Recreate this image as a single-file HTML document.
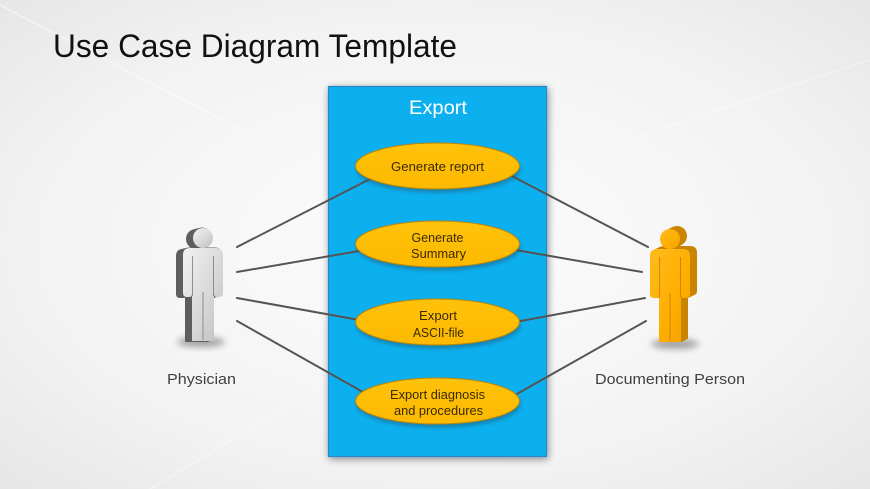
<!DOCTYPE html>
<html>
<head>
<meta charset="utf-8">
<style>
  html, body { margin: 0; padding: 0; width: 870px; height: 489px; overflow: hidden; background: #f1f1f1; }
  svg { display: block; }
  text { font-family: "Liberation Sans", Arial, sans-serif; }
</style>
</head>
<body>
<svg width="870" height="489" viewBox="0 0 870 489" xmlns="http://www.w3.org/2000/svg">
  <defs>
    <radialGradient id="bg" cx="0.5" cy="0.5" r="0.75">
      <stop offset="0" stop-color="#fcfcfc"/>
      <stop offset="0.6" stop-color="#f3f3f3"/>
      <stop offset="1" stop-color="#e4e4e4"/>
    </radialGradient>
    <filter id="boxsh" x="-20%" y="-20%" width="140%" height="140%">
      <feGaussianBlur in="SourceAlpha" stdDeviation="4"/>
      <feOffset dx="1" dy="2" result="b"/>
      <feComponentTransfer><feFuncA type="linear" slope="0.45"/></feComponentTransfer>
      <feMerge><feMergeNode/><feMergeNode in="SourceGraphic"/></feMerge>
    </filter>
    <filter id="blur2" x="-50%" y="-50%" width="200%" height="200%">
      <feGaussianBlur stdDeviation="2"/>
    </filter>
    <filter id="blur4" x="-50%" y="-100%" width="200%" height="300%">
      <feGaussianBlur stdDeviation="3.5"/>
    </filter>
    <linearGradient id="ellg" x1="0" y1="0" x2="0" y2="1">
      <stop offset="0" stop-color="#ffc20a"/>
      <stop offset="1" stop-color="#fcb900"/>
    </linearGradient>
    <linearGradient id="grayFront" x1="0" y1="0" x2="1" y2="1">
      <stop offset="0" stop-color="#f2f2f2"/>
      <stop offset="0.6" stop-color="#d6d6d6"/>
      <stop offset="1" stop-color="#bdbdbd"/>
    </linearGradient>
    <linearGradient id="orFront" x1="0" y1="0" x2="1" y2="1">
      <stop offset="0" stop-color="#ffbb1c"/>
      <stop offset="0.6" stop-color="#ffae00"/>
      <stop offset="1" stop-color="#f29f00"/>
    </linearGradient>
    <g id="person">
      <circle cx="20" cy="10" r="10"/>
      <path d="M0,27 Q0,20 7,20 L33,20 Q40,20 40,27 L40,65 Q40,69 36,69 L34,69 Q31,69 31,66 L31,113 L9,113 L9,66 Q9,69 6,69 L4,69 Q0,69 0,65 Z"/>
    </g>
  </defs>

  <!-- background -->
  <rect x="0" y="0" width="870" height="489" fill="url(#bg)"/>
  <line x1="0" y1="5" x2="300" y2="160" stroke="#ffffff" stroke-width="1" opacity="0.6"/>
  <line x1="600" y1="150" x2="870" y2="60" stroke="#ffffff" stroke-width="1" opacity="0.5"/>
  <line x1="150" y1="489" x2="330" y2="380" stroke="#ffffff" stroke-width="1" opacity="0.5"/>

  <!-- title -->
  <text x="53" y="57" font-size="32" fill="#111111" textLength="404" lengthAdjust="spacingAndGlyphs">Use Case Diagram Template</text>

  <!-- blue system box -->
  <rect x="328.5" y="86.5" width="218" height="370" fill="#0cb0ef" stroke="#2a86c4" stroke-width="1.2" filter="url(#boxsh)"/>
  <text x="438" y="114" font-size="19" fill="#ffffff" text-anchor="middle" textLength="58" lengthAdjust="spacingAndGlyphs">Export</text>

  <!-- connectors -->
  <g stroke="#545454" stroke-width="2" stroke-linecap="round">
    <line x1="237" y1="247" x2="372" y2="178"/>
    <line x1="237" y1="272" x2="365" y2="250"/>
    <line x1="237" y1="298" x2="365" y2="321"/>
    <line x1="237" y1="321" x2="370" y2="396"/>
    <line x1="508" y1="174" x2="648" y2="247"/>
    <line x1="510" y1="249" x2="642" y2="272"/>
    <line x1="510" y1="323" x2="645" y2="298"/>
    <line x1="508" y1="399" x2="646" y2="321"/>
  </g>

  <!-- use case ellipses -->
  <g>
    <g transform="translate(0,166)">
      <ellipse cx="438.5" cy="3.5" rx="82" ry="23" fill="#1d5a7a" opacity="0.55" filter="url(#blur2)"/>
      <ellipse cx="437.5" cy="0" rx="82" ry="23" fill="url(#ellg)" stroke="#b8860b" stroke-width="1"/>
    </g>
    <g transform="translate(0,244)">
      <ellipse cx="438.5" cy="3.5" rx="82" ry="23" fill="#1d5a7a" opacity="0.55" filter="url(#blur2)"/>
      <ellipse cx="437.5" cy="0" rx="82" ry="23" fill="url(#ellg)" stroke="#b8860b" stroke-width="1"/>
    </g>
    <g transform="translate(0,322)">
      <ellipse cx="438.5" cy="3.5" rx="82" ry="23" fill="#1d5a7a" opacity="0.55" filter="url(#blur2)"/>
      <ellipse cx="437.5" cy="0" rx="82" ry="23" fill="url(#ellg)" stroke="#b8860b" stroke-width="1"/>
    </g>
    <g transform="translate(0,401)">
      <ellipse cx="438.5" cy="3.5" rx="82" ry="23" fill="#1d5a7a" opacity="0.55" filter="url(#blur2)"/>
      <ellipse cx="437.5" cy="0" rx="82" ry="23" fill="url(#ellg)" stroke="#b8860b" stroke-width="1"/>
    </g>
  </g>

  <!-- ellipse labels -->
  <g font-size="12.5" fill="#3a2a00" text-anchor="middle">
    <text x="437.5" y="171" textLength="93" lengthAdjust="spacingAndGlyphs">Generate report</text>
    <text x="437.5" y="242" textLength="52" lengthAdjust="spacingAndGlyphs">Generate</text>
    <text x="438.5" y="258" textLength="55" lengthAdjust="spacingAndGlyphs">Summary</text>
    <text x="438" y="320" textLength="38" lengthAdjust="spacingAndGlyphs">Export</text>
    <text x="438.5" y="337" textLength="51" lengthAdjust="spacingAndGlyphs">ASCII-file</text>
    <text x="437.5" y="399" textLength="95" lengthAdjust="spacingAndGlyphs">Export diagnosis</text>
    <text x="438.5" y="415" textLength="89" lengthAdjust="spacingAndGlyphs">and procedures</text>
  </g>

  <!-- physician (gray) -->
  <ellipse cx="201" cy="342" rx="24" ry="5" fill="#000" opacity="0.35" filter="url(#blur4)"/>
  <g fill="#5e5e5e">
    <use href="#person" transform="translate(176,229)"/>
    <use href="#person" transform="translate(177,229)"/>
    <use href="#person" transform="translate(178,228.5)"/>
    <use href="#person" transform="translate(179,228.5)"/>
    <use href="#person" transform="translate(180,228)"/>
    <use href="#person" transform="translate(181,228)"/>
    <use href="#person" transform="translate(182,227.5)"/>
  </g>
  <use href="#person" transform="translate(183,228)" fill="url(#grayFront)"/>
  <g stroke="#7a7a7a" stroke-width="1" opacity="0.8">
    <line x1="192.5" y1="256" x2="192.5" y2="296"/>
    <line x1="213.5" y1="256" x2="213.5" y2="296"/>
    <line x1="203" y1="292" x2="203" y2="340"/>
  </g>
  <text x="201.5" y="384" font-size="15" fill="#404040" text-anchor="middle" textLength="69" lengthAdjust="spacingAndGlyphs">Physician</text>

  <!-- documenting person (orange) -->
  <ellipse cx="675" cy="344" rx="24" ry="5" fill="#000" opacity="0.35" filter="url(#blur4)"/>
  <g fill="#c98400">
    <use href="#person" transform="translate(657,226)"/>
    <use href="#person" transform="translate(656,226.5)"/>
    <use href="#person" transform="translate(655,227)"/>
    <use href="#person" transform="translate(654,227.5)"/>
    <use href="#person" transform="translate(653,228)"/>
    <use href="#person" transform="translate(652,228.5)"/>
    <use href="#person" transform="translate(651,229)"/>
  </g>
  <use href="#person" transform="translate(650,229)" fill="url(#orFront)"/>
  <g stroke="#c98400" stroke-width="1" opacity="0.9">
    <line x1="659.5" y1="257" x2="659.5" y2="297"/>
    <line x1="680.5" y1="257" x2="680.5" y2="297"/>
    <line x1="670" y1="293" x2="670" y2="341"/>
  </g>
  <text x="670" y="384" font-size="15" fill="#404040" text-anchor="middle" textLength="150" lengthAdjust="spacingAndGlyphs">Documenting Person</text>
</svg>
</body>
</html>
